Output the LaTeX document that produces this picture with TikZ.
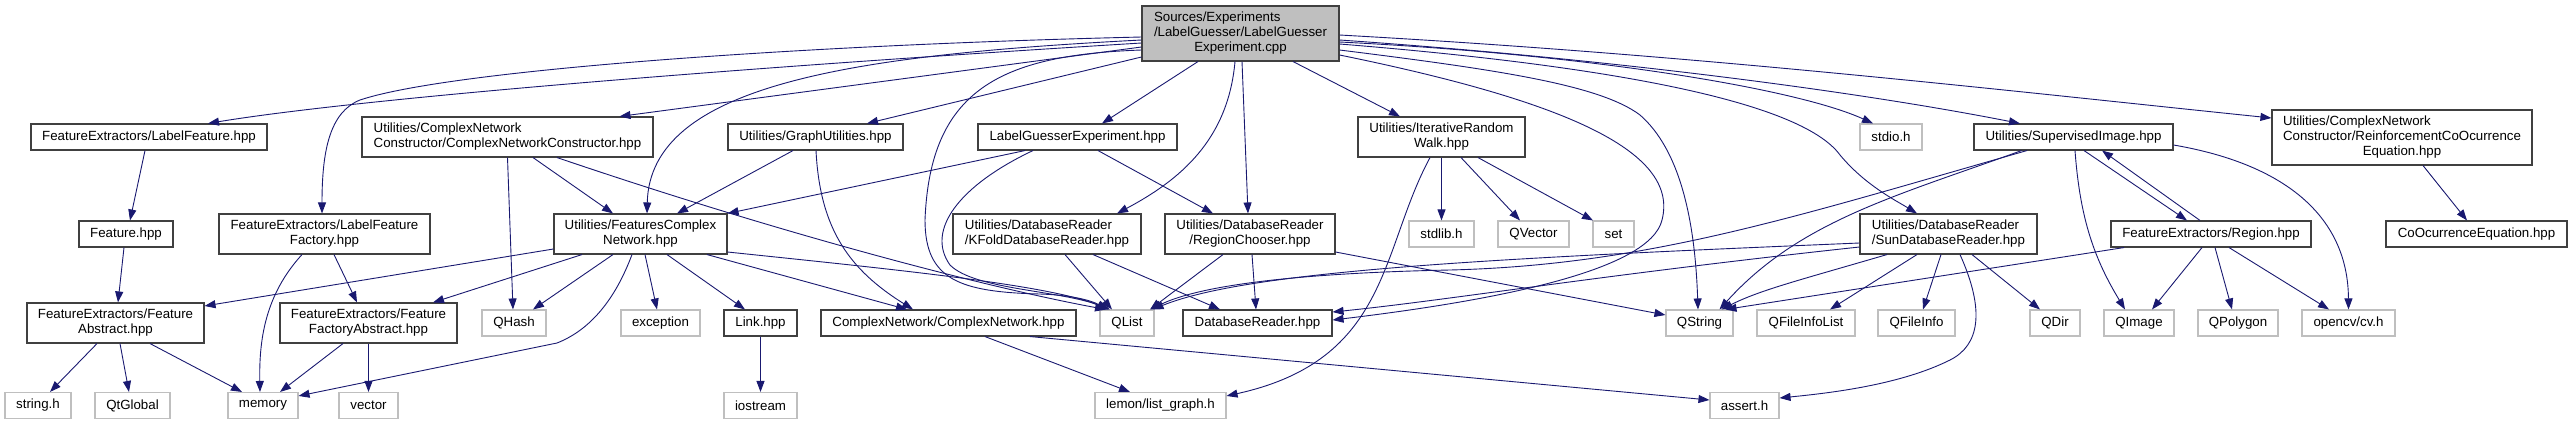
\documentclass[tikz,border=0pt]{standalone}
\usepackage{fontspec}
\setmainfont{Liberation Sans}
\usepackage{xcolor}
\usepackage{tikz}
\usetikzlibrary{arrows.meta}
\definecolor{edgeBlue}{HTML}{191970}
\definecolor{boxLine}{HTML}{404040}
\definecolor{sysLine}{HTML}{BFBFBF}
\definecolor{rootFill}{HTML}{BFBFBF}

\begin{document}
\begin{tikzpicture}[x=1pt,y=-1pt,
    every node/.style={inner sep=0pt,font=\fontsize{13.3}{15}\selectfont,align=center,line width=1.1pt},
    incbox/.style={draw=boxLine,minimum height=26pt},
    sysbox/.style={draw=sysLine,minimum height=26pt},
    rootbox/.style={draw=boxLine,fill=rootFill,minimum height=55pt},
    dep/.style={draw=edgeBlue,line width=0.9pt,-{Triangle[length=11pt,width=8pt]}}]
    \useasboundingbox (0,0) rectangle (2572,424);

    \node[rootbox,minimum width=197pt] (root) at (1240.5,33.5) {\begin{tabular}{@{}l@{}}Sources/Experiments\\/LabelGuesser/LabelGuesser\\\multicolumn{1}{@{}c@{}}{Experiment.cpp}\end{tabular}};

    \node[incbox,minimum width=236pt] (labelFeat) at (149,137) {FeatureExtractors/LabelFeature.hpp};
    \node[incbox,minimum width=291pt,minimum height=40pt,align=left] (netCons) at (507.5,137) {Utilities/ComplexNetwork\\Constructor/ComplexNetworkConstructor.hpp};
    \node[incbox,minimum width=175pt] (graphUtil) at (815.5,137) {Utilities/GraphUtilities.hpp};
    \node[incbox,minimum width=199pt] (guessExp) at (1077.5,137) {LabelGuesserExperiment.hpp};
    \node[incbox,minimum width=167pt,minimum height=40pt] (randWalk) at (1441.5,137) {Utilities/IterativeRandom\\Walk.hpp};
    \node[sysbox,minimum width=62pt] (stdio) at (1891,137) {stdio.h};
    \node[incbox,minimum width=199pt] (supImg) at (2073.5,137) {Utilities/SupervisedImage.hpp};
    \node[incbox,minimum width=260pt,minimum height=55pt] (reinfEq) at (2402,137.5) {\begin{tabular}{@{}l@{}}Utilities/ComplexNetwork\\Constructor/ReinforcementCoOcurrence\\\multicolumn{1}{@{}c@{}}{Equation.hpp}\end{tabular}};

    \node[incbox,minimum width=94pt] (feat) at (126,234) {Feature.hpp};
    \node[incbox,minimum width=211pt,minimum height=40pt] (featFactory) at (324.5,234) {FeatureExtractors/LabelFeature\\Factory.hpp};
    \node[incbox,minimum width=173pt,minimum height=40pt] (featNet) at (640.5,234) {Utilities/FeaturesComplex\\Network.hpp};
    \node[incbox,minimum width=188pt,minimum height=40pt,align=left] (kfold) at (1047,234) {Utilities/DatabaseReader\\/KFoldDatabaseReader.hpp};
    \node[incbox,minimum width=170pt,minimum height=40pt] (regChooser) at (1250,234) {Utilities/DatabaseReader\\/RegionChooser.hpp};
    \node[sysbox,minimum width=65pt] (stdlib) at (1441.5,234) {stdlib.h};
    \node[sysbox,minimum width=71pt] (qvector) at (1533.5,234) {QVector};
    \node[sysbox,minimum width=41pt] (stdset) at (1613.5,234) {set};
    \node[incbox,minimum width=177pt,minimum height=40pt,align=left] (sunReader) at (1948.5,234) {Utilities/DatabaseReader\\/SunDatabaseReader.hpp};
    \node[incbox,minimum width=200pt] (region) at (2211,234) {FeatureExtractors/Region.hpp};
    \node[incbox,minimum width=181pt] (coEq) at (2476.5,234) {CoOcurrenceEquation.hpp};

    \node[incbox,minimum width=177pt,minimum height=40pt] (featAbs) at (115.5,323) {FeatureExtractors/Feature\\Abstract.hpp};
    \node[incbox,minimum width=177pt,minimum height=40pt] (factAbs) at (368.5,323) {FeatureExtractors/Feature\\FactoryAbstract.hpp};
    \node[sysbox,minimum width=64pt] (qhash) at (514,323) {QHash};
    \node[sysbox,minimum width=79pt] (exception) at (660.5,323) {exception};
    \node[incbox,minimum width=73pt] (link) at (760.5,323) {Link.hpp};
    \node[incbox,minimum width=255pt] (complexNet) at (948.5,323) {ComplexNetwork/ComplexNetwork.hpp};
    \node[sysbox,minimum width=54pt] (qlist) at (1127,323) {QList};
    \node[incbox,minimum width=149pt] (dbReader) at (1257.5,323) {DatabaseReader.hpp};
    \node[sysbox,minimum width=67pt] (qstring) at (1699.5,323) {QString};
    \node[sysbox,minimum width=98pt] (qfilelist) at (1806,323) {QFileInfoList};
    \node[sysbox,minimum width=77pt] (qfileinfo) at (1916.5,323) {QFileInfo};
    \node[sysbox,minimum width=50pt] (qdir) at (2055,323) {QDir};
    \node[sysbox,minimum width=70pt] (qimage) at (2139,323) {QImage};
    \node[sysbox,minimum width=80pt] (qpolygon) at (2238,323) {QPolygon};
    \node[sysbox,minimum width=93pt] (opencv) at (2348.5,323) {opencv/cv.h};

    \node[sysbox,minimum width=66pt] (stringh) at (38,405.5) {string.h};
    \node[sysbox,minimum width=75pt] (qtglobal) at (132.5,405.5) {QtGlobal};
    \node[sysbox,minimum width=70pt] (memory) at (263,405.5) {memory};
    \node[sysbox,minimum width=59pt] (vector) at (368.5,405.5) {vector};
    \node[sysbox,minimum width=73pt] (iostream) at (760.5,405.5) {iostream};
    \node[sysbox,minimum width=131pt] (lemon) at (1160.5,405.5) {lemon/list\_graph.h};
    \node[sysbox,minimum width=69pt] (asserth) at (1744.5,405.5) {assert.h};

    \draw[dep] ([yshift=-9.5pt]root.west) .. controls (700,70) and (350,100) .. ([xshift=59pt]labelFeat.north);
    \draw[dep] ([yshift=-3.5pt]root.west) .. controls (800,45) and (450,70) .. (360,100) .. controls (330,112) and (322,150) .. ([xshift=-2.5pt]featFactory.north);
    \draw[dep] ([yshift=-13.5pt]root.west) -- ([xshift=112pt]netCons.north);
    \draw[dep] ([yshift=-6.5pt]root.west) .. controls (850,55) and (650,85) .. ([xshift=6.5pt]featNet.north);
    \draw[dep] ([yshift=-23.5pt]root.west) -- ([xshift=51.5pt]graphUtil.north);
    \draw[dep] ([xshift=-42.5pt]root.south) -- ([xshift=24.5pt]guessExp.north);
    \draw[dep] ([yshift=-16.5pt]root.west) .. controls (1000,55) and (930,90) .. (925,220) .. controls (925,280) and (960,292) .. (1040,294) .. controls (1070,295) and (1090,300) .. ([xshift=-19pt]qlist.north);
    \draw[dep] ([xshift=-5.5pt]root.south) .. controls (1228,140) and (1180,180) .. ([xshift=70pt]kfold.north);
    \draw[dep] ([xshift=1.5pt]root.south) -- ([xshift=-2pt]regChooser.north);
    \draw[dep] ([xshift=52.5pt]root.south) -- ([xshift=-41.5pt]randWalk.north);
    \draw[dep] ([yshift=-16.5pt]root.east) .. controls (1500,70) and (1600,85) .. (1640,115) .. controls (1680,150) and (1695,220) .. ([xshift=-1.5pt]qstring.north);
    \draw[dep] ([yshift=-21.5pt]root.east) .. controls (1560,100) and (1680,150) .. (1662,220) .. controls (1650,270) and (1500,300) .. ([yshift=3pt]dbReader.east);
    \draw[dep] ([yshift=-10.5pt]root.east) .. controls (1600,65) and (1800,100) .. (1840,155) .. controls (1865,185) and (1895,200) .. ([xshift=-31.5pt]sunReader.north);
    \draw[dep] ([yshift=-8.5pt]root.east) .. controls (1600,55) and (1800,90) .. ([xshift=-18pt]stdio.north);
    \draw[dep] ([yshift=-6.5pt]root.east) .. controls (1600,58) and (1850,90) .. ([xshift=-53.5pt]supImg.north);
    \draw[dep] ([yshift=-1.5pt]root.east) .. controls (1700,55) and (2000,90) .. ([yshift=19.5pt]reinfEq.west);

    \draw[dep] ([xshift=-4pt]labelFeat.south) -- ([xshift=4pt]feat.north);
    \draw[dep] ([xshift=-2pt]feat.south) -- ([xshift=2.5pt]featAbs.north);
    \draw[dep] ([xshift=25.5pt]netCons.south) -- ([xshift=-27.5pt]featNet.north);
    \draw[dep] (netCons.south) -- ([xshift=-1pt]qhash.north);
    \draw[dep] ([xshift=49.5pt]netCons.south) .. controls (800,240) and (1000,290) .. ([xshift=-21pt]qlist.north);
    \draw[dep] ([xshift=-22.5pt]featFactory.south) .. controls (265,295) and (259,340) .. ([xshift=-3pt]memory.north);
    \draw[dep] ([xshift=9.5pt]featFactory.south) -- ([xshift=-11.5pt]factAbs.north);
    \draw[dep] ([xshift=-18.5pt]featAbs.south) -- ([xshift=12pt]stringh.north);
    \draw[dep] ([xshift=4.5pt]featAbs.south) -- ([xshift=-3.5pt]qtglobal.north);
    \draw[dep] ([xshift=34.5pt]featAbs.south) -- ([xshift=-21pt]memory.north);
    \draw[dep] ([xshift=-25.5pt]factAbs.south) -- ([xshift=17pt]memory.north);
    \draw[dep] (factAbs.south) -- (vector.north);

    \draw[dep] ([yshift=-15pt]featNet.west) -- ([yshift=17pt]featAbs.east);
    \draw[dep] ([xshift=-58.5pt]featNet.south) -- ([xshift=64.5pt]factAbs.north);
    \draw[dep] ([xshift=-27.5pt]featNet.south) -- ([xshift=19pt]qhash.north);
    \draw[dep] ([xshift=-8.5pt]featNet.south) .. controls (615,300) and (590,330) .. (557,343) -- ([yshift=-4pt]memory.north east);
    \draw[dep] ([xshift=4.5pt]featNet.south) -- ([xshift=-3.5pt]exception.north);
    \draw[dep] ([xshift=26.5pt]featNet.south) -- ([xshift=-15.5pt]link.north);
    \draw[dep] ([xshift=66.5pt]featNet.south) -- ([xshift=-41.5pt]complexNet.north);
    \draw[dep] ([yshift=-18pt]featNet.east) .. controls (900,270) and (1050,285) .. ([xshift=-18pt]qlist.north);

    \draw[dep] ([xshift=-22.5pt]graphUtil.south) -- ([xshift=36.5pt]featNet.north);
    \draw[dep] ([xshift=0.5pt]graphUtil.south) .. controls (820,230) and (850,270) .. ([xshift=-35.5pt]complexNet.north);
    \draw[dep] ([xshift=-52.5pt]guessExp.south) -- (featNet.north east);
    \draw[dep] ([xshift=-44.5pt]guessExp.south) .. controls (960,185) and (925,230) .. (950,265) .. controls (975,290) and (1060,290) .. ([xshift=-17pt]qlist.north);
    \draw[dep] ([xshift=20.5pt]guessExp.south) -- ([xshift=-37pt]regChooser.north);
    \draw[dep] ([xshift=18pt]kfold.south) -- ([xshift=-15pt]qlist.north);
    \draw[dep] ([xshift=46pt]kfold.south) -- ([xshift=-37.5pt]dbReader.north);
    \draw[dep] ([xshift=-27pt]regChooser.south) -- ([xshift=23pt]qlist.north);
    \draw[dep] ([xshift=2pt]regChooser.south) -- ([xshift=-1.5pt]dbReader.north);
    \draw[dep] ([yshift=-18pt]regChooser.east) -- ([yshift=8pt]qstring.west);
    \draw[dep] (link.south) -- (iostream.north);
    \draw[dep] ([xshift=36.5pt]complexNet.south) -- ([xshift=-30.5pt]lemon.north);
    \draw[dep] ([xshift=81.5pt]complexNet.south) -- ([yshift=5.5pt]asserth.west);

    \draw[dep] ([xshift=-11.5pt]randWalk.south) .. controls (1380,250) and (1390,360) .. ([yshift=-4pt]lemon.north east);
    \draw[dep] (randWalk.south) -- (stdlib.north);
    \draw[dep] ([xshift=19.5pt]randWalk.south) -- ([xshift=-13.5pt]qvector.north);
    \draw[dep] ([xshift=36.5pt]randWalk.south) -- ([xshift=-20.5pt]stdset.north);

    \draw[dep] ([xshift=-46.5pt]supImg.south) .. controls (1800,215) and (1650,265) .. (1450,270) .. controls (1300,273) and (1200,285) .. ([xshift=-4pt]qlist.north east);
    \draw[dep] ([xshift=-52pt]supImg.south) .. controls (1900,195) and (1800,220) .. ([xshift=20pt]qstring.north);
    \draw[dep] ([xshift=1.5pt]supImg.south) .. controls (2080,220) and (2095,260) .. ([xshift=-14pt]qimage.north);
    \draw[dep] ([xshift=10.5pt]supImg.south) -- ([xshift=-24pt]region.north);
    \draw[dep] ([xshift=-11pt]region.north) -- ([xshift=28.5pt]supImg.south);
    \draw[dep] ([yshift=-8pt]supImg.east) .. controls (2290,165) and (2348,220) .. (opencv.north);
    \draw[dep] ([xshift=-9pt]region.south) -- ([xshift=13pt]qimage.north);
    \draw[dep] ([xshift=4pt]region.south) -- ([xshift=-6pt]qpolygon.north);
    \draw[dep] ([xshift=18pt]region.south) -- ([xshift=-19.5pt]opencv.north);
    \draw[dep] ([xshift=-87pt]region.south) -- ([xshift=26pt]qstring.north);

    \draw[dep] ([yshift=-9pt]sunReader.west) .. controls (1500,258) and (1250,270) .. ([xshift=-2pt]qlist.north east);
    \draw[dep] ([yshift=-13pt]sunReader.west) .. controls (1600,275) and (1450,300) .. ([yshift=11pt]dbReader.east);
    \draw[dep] ([xshift=-61.5pt]sunReader.south) .. controls (1800,280) and (1760,290) .. ([xshift=22pt]qstring.north);
    \draw[dep] ([xshift=-31.5pt]sunReader.south) -- ([xshift=24pt]qfilelist.north);
    \draw[dep] ([xshift=-7.5pt]sunReader.south) -- ([xshift=6.5pt]qfileinfo.north);
    \draw[dep] ([xshift=11.5pt]sunReader.south) .. controls (1985,310) and (1980,345) .. (1950,360) .. controls (1900,385) and (1830,393) .. ([yshift=7.5pt]asserth.east);
    \draw[dep] ([xshift=23.5pt]sunReader.south) -- ([xshift=-15pt]qdir.north);
    \draw[dep] ([xshift=21pt]reinfEq.south) -- ([xshift=-9.5pt]coEq.north);
\end{tikzpicture}
\end{document}
